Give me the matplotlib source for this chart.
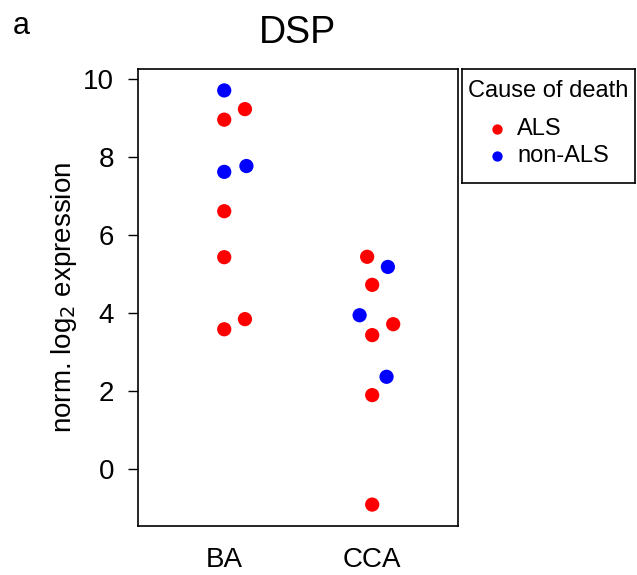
import matplotlib
matplotlib.use("Agg")
import matplotlib.pyplot as plt

plt.rcParams["font.family"] = ["Liberation Sans", "DejaVu Sans"]

# DSP expression per tissue
tissues = ["BA", "CCA"]
ba_values = [9.71, 9.23, 8.96, 7.77, 7.62, 6.61, 5.43, 3.84, 3.58]
ba_jitter = [0.0, 0.14, 0.0, 0.15, 0.0, 0.0, 0.0, 0.14, 0.0]
ba_cause = ["non-ALS", "ALS", "ALS", "non-ALS", "non-ALS", "ALS", "ALS", "ALS", "ALS"]
cca_values = [5.44, 5.18, 4.72, 3.94, 3.71, 3.43, 2.36, 1.89, -0.92]
cca_jitter = [-0.034, 0.106, 0.0, -0.085, 0.142, 0.0, 0.097, 0.0, 0.0]
cca_cause = ["ALS", "non-ALS", "ALS", "non-ALS", "ALS", "ALS", "non-ALS", "ALS", "ALS"]

causes = ["ALS", "non-ALS"]
colors = {"ALS": "#ff0000", "non-ALS": "#0000ff"}

fig = plt.figure(figsize=(6.37, 5.75), dpi=100)
ax = fig.add_axes([0.2166, 0.0852, 0.5024, 0.7948])

groups = [(ba_values, ba_jitter, ba_cause), (cca_values, cca_jitter, cca_cause)]
for i, (vals, jit, cause) in enumerate(groups, start=1):
    xs = [i + j for j in jit]
    cs = [colors[c] for c in cause]
    ax.scatter(xs, vals, c=cs, s=105, linewidths=0, zorder=3)

ax.set_xlim(0.417, 2.58)
ax.set_ylim(-1.47, 10.26)
ax.set_xticks([1, 2])
ax.set_xticklabels(tissues)
ax.set_yticks(range(0, 11, 2))
ax.tick_params(axis="x", length=0, pad=15, labelsize=20)
ax.tick_params(axis="y", length=7, width=1, pad=10, labelsize=20)
for s in ax.spines.values():
    s.set_linewidth(1.2)

ax.set_ylabel("norm. log$_2$ expression", fontsize=20, labelpad=3)
ax.set_title("DSP", fontsize=27, pad=19)
fig.text(13 / 637, 1 - 34 / 575, "a", fontsize=22, va="baseline")

# legend box, laid out in pixel units (R-style legend outside the plot)
lax = fig.add_axes([462 / 637, 1 - 183 / 575, 173 / 637, 114 / 575])
lax.set_xlim(0, 173)
lax.set_ylim(114, 0)
lax.set_xticks([])
lax.set_yticks([])
for s in lax.spines.values():
    s.set_linewidth(1.2)
lax.text(86.5, 22, "Cause of death", fontsize=17, ha="center", va="center")
for k, cause in enumerate(causes):
    y = 60 + 27 * k
    lax.scatter([35], [y], s=55, c=colors[cause], linewidths=0)
    lax.text(55, y, cause, fontsize=17, ha="left", va="center")

fig.savefig("out.png", dpi=100)
